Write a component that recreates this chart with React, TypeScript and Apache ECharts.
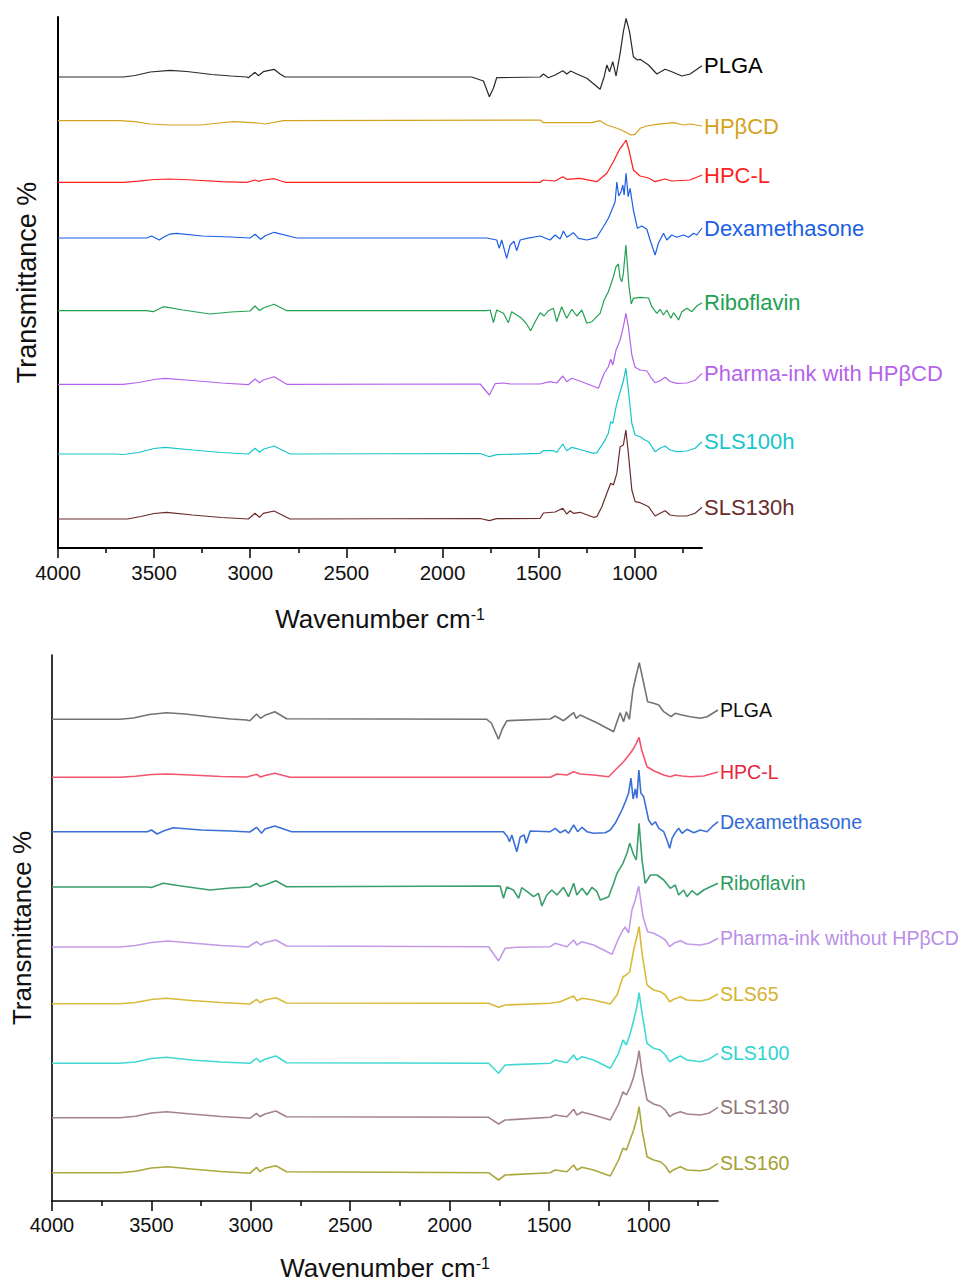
import React, { useEffect, useRef } from "react";
import * as echarts from "echarts";

const FONT = "Liberation Sans, Arial, Helvetica, sans-serif";
const X_MIN = 650;
const X_MAX = 4000;
const MAJOR_TICKS = [4000, 3500, 3000, 2500, 2000, 1500, 1000];
const MINOR_TICKS = [3750, 3250, 2750, 2250, 1750, 1250, 750];
const X_TITLE = "{m|Wavenumber cm}{s|-1}";
const Y_TITLE = "Transmittance %";

// ---------- Top panel ----------
const TOP_NAMES = ["PLGA", "HPβCD", "HPC-L", "Dexamethasone", "Riboflavin", "Pharma-ink with HPβCD", "SLS100h", "SLS130h"];
const TOP_LINE_COLORS = ["#2a2a2a", "#d4a21e", "#ff1f1f", "#1c5fe4", "#22a052", "#b463ea", "#17c5cb", "#6b2b2b"];
const TOP_LABEL_COLORS = ["#000000", "#d4a21e", "#ff1f1f", "#1c5fe4", "#22a052", "#b463ea", "#17c5cb", "#6b2b2b"];

const topPLGA = [[4000,471],[3660,471],[3600,472.5],[3520,476],[3417,477.7],[3330,476.5],[3200,473.5],[3100,472],[3018,471],[3010,470.3],[2975,475.7],[2958,472.3],[2932,476.3],[2876,478.7],[2845,474],[2819,471],[1848,471],[1787,467],[1756,451.3],[1735,459.7],[1718,470.3],[1492,471],[1475,474],[1449,470.3],[1414,473],[1374,477.3],[1353,474],[1333,477],[1301,474],[1249,469.7],[1180,458.7],[1159,471.3],[1145,483],[1131,476.3],[1114,486.3],[1097,472],[1076,494.7],[1059,516.3],[1045,529.7],[1027,516.3],[1007,491.3],[986,488],[972,488.7],[928,483],[885,474],[842,478.7],[807,476.3],[755,472],[712,474],[650,482.3]];
const topHPBCD = [[4000,427.3],[3677,427.3],[3600,426.3],[3520,424],[3417,423],[3261,423],[3160,425],[3088,426.3],[2960,425],[2923,424],[2828,427.3],[1492,428],[1475,425.3],[1223,425.3],[1180,427.3],[1145,423],[1093,419.7],[1059,417],[1020,413],[998,413.7],[972,419.7],[937,422],[885,423.7],[798,425.3],[746,423],[712,424],[650,422]];
const topHPCL = [[4000,365.7],[3660,365.7],[3580,366.8],[3500,368.5],[3417,369],[3300,368],[3150,366.3],[3018,365.7],[2975,368],[2958,366.7],[2932,368],[2876,369.3],[2819,365.7],[1492,365.7],[1475,368],[1414,367],[1374,371.3],[1353,368.7],[1284,369.7],[1197,366.3],[1145,374.7],[1111,386.3],[1076,399.7],[1062,403],[1045,408],[1030,398],[1007,378],[972,372],[928,370],[894,366.3],[842,369],[807,367],[712,368],[650,373]];
const topDexa = [[4000,310],[3539,310],[3513,312],[3473,308],[3450,311],[3420,313.8],[3383,314.7],[3250,312],[3100,311],[3001,310],[2975,313.7],[2946,308.7],[2920,312.5],[2876,315.7],[2758,310],[1770,310],[1718,308],[1705,299.7],[1692,308],[1666,289.7],[1648,303],[1628,306.7],[1614,297.3],[1596,308],[1562,309.7],[1492,312],[1440,308],[1414,313],[1388,309],[1371,317],[1353,310.7],[1319,315.3],[1293,309.7],[1249,308],[1197,310.7],[1163,321.3],[1137,329.7],[1119,338],[1102,346.3],[1093,366],[1083,352],[1071,356.3],[1062,363],[1055,353],[1045,374.7],[1034,351.3],[1024,359.7],[1007,338],[986,319.7],[963,322],[937,318.7],[920,308],[894,293],[877,304.7],[850,314.7],[833,308],[807,313],[781,310.7],[746,313],[720,310.7],[694,314.7],[677,313],[650,320]];
const topRibo = [[4000,237.3],[3540,237.3],[3504,236.3],[3452,241.3],[3350,238],[3209,234],[3100,236],[3001,237],[2975,242],[2952,237.5],[2932,240],[2876,243.7],[2810,237.3],[1770,237.3],[1752,238],[1735,225.3],[1718,238],[1683,234.7],[1657,225.3],[1640,236.3],[1614,233],[1588,229.7],[1565,224.7],[1541,217.3],[1518,226.3],[1492,235.3],[1471,232],[1449,237.3],[1423,239.7],[1406,226.3],[1380,241.3],[1354,229.7],[1327,238.7],[1301,232],[1275,238],[1249,224.7],[1223,226.3],[1180,234.7],[1159,248],[1137,256.3],[1125,263],[1111,271.3],[1097,281.3],[1085,284],[1076,269.7],[1067,266.3],[1059,274.7],[1046,303],[1030,262],[1018,244],[1007,249.7],[972,250.7],[928,250],[911,241.3],[885,234.7],[868,238.7],[851,233],[833,238],[812,229.7],[798,235.3],[772,228],[755,236.3],[729,239.7],[703,236.3],[677,242],[650,245.3]];
const topInkWith = [[4000,163.7],[3660,163.7],[3580,165.5],[3500,168.5],[3443,169.7],[3300,167.5],[3150,165],[3010,163.3],[2975,169],[2952,165.3],[2932,168],[2876,171.3],[2810,163.7],[1804,164],[1756,153],[1726,164.3],[1683,165],[1648,164],[1492,164],[1440,166.3],[1406,165],[1374,172],[1354,166.3],[1327,169.7],[1275,166.3],[1189,159.7],[1159,174.7],[1137,181.3],[1125,188.7],[1114,183],[1097,198],[1076,208],[1059,221.3],[1046,234.7],[1033,221.3],[1015,193],[998,180.7],[972,178],[937,177],[916,170.7],[894,165.3],[868,167.3],[842,170.7],[816,166.5],[781,164.7],[729,165],[686,167.7],[650,174.7]];
const topSLS100h = [[4000,94],[3700,94],[3660,93.5],[3580,95.5],[3500,99.5],[3443,100.7],[3300,98],[3150,95.5],[3010,94],[2975,99.7],[2952,95.7],[2932,98.7],[2876,102],[2793,94],[1804,94.5],[1756,91.3],[1718,93.3],[1492,94.7],[1475,97.3],[1423,97.3],[1406,95.7],[1374,104],[1354,97.3],[1327,100.7],[1275,98],[1215,94.7],[1197,95.3],[1159,106.3],[1137,114.7],[1125,126.3],[1114,124.7],[1097,141.3],[1076,156.3],[1062,164.7],[1046,179.7],[1033,158],[1015,124.7],[998,113],[972,111.3],[946,108],[928,106.3],[894,96.3],[868,99.7],[842,102],[816,98],[781,96.3],[729,97],[686,99.7],[650,106.3]];
const topSLS130h = [[4000,29],[3637,29],[3570,31.5],[3500,34.5],[3435,35.7],[3300,33],[3150,30.5],[3010,29],[2975,34.7],[2952,30.7],[2932,34.7],[2876,37],[2793,29],[1804,29.5],[1756,27.3],[1718,29.3],[1492,29.7],[1475,35],[1414,36],[1374,39.7],[1354,34],[1336,37.3],[1319,34.7],[1284,35.7],[1215,30.7],[1197,31.3],[1171,41.3],[1145,54.7],[1125,64.7],[1111,63],[1093,74.7],[1076,101.3],[1059,103],[1046,118],[1033,94.7],[1015,58],[998,46.3],[972,45.3],[946,43],[928,41.3],[894,32],[868,34.7],[842,37.3],[816,33],[781,32],[729,32],[686,34.7],[650,40.7]];
const TOP_DATA = [topPLGA, topHPBCD, topHPCL, topDexa, topRibo, topInkWith, topSLS100h, topSLS130h];

// ---------- Bottom panel ----------
const BOT_NAMES = ["PLGA", "HPC-L", "Dexamethasone", "Riboflavin", "Pharma-ink without HPβCD", "SLS65", "SLS100", "SLS130", "SLS160"];
const BOT_LINE_COLORS = ["#737373", "#f3546e", "#3b71d6", "#3a9f6c", "#c39ae8", "#d9bb3c", "#43d9d3", "#a28489", "#aaa83c"];
const BOT_LABEL_COLORS = ["#111111", "#e8243c", "#2f6ad8", "#2e9a5e", "#b98ee6", "#d6b22e", "#2ed3d0", "#8e7479", "#a2a030"];

const botPLGA = [[4000,481.7],[3659,481.7],[3590,483],[3510,486.5],[3424,488.3],[3330,487],[3200,484],[3100,482],[3021,481],[3005,480.3],[2971,487],[2951,482.7],[2929,485.7],[2879,489.3],[2820,482.3],[1813,481.7],[1790,478],[1754,461.7],[1735,472],[1712,480.3],[1494,482],[1469,485],[1427,480.3],[1410,483],[1376,488.3],[1363,482.7],[1343,486],[1309,482.7],[1259,478.3],[1175,469.3],[1155,481],[1142,488.3],[1125,479.3],[1111,489.3],[1096,481.7],[1078,511],[1061,526],[1046,538.3],[1029,522.7],[1004,499.3],[974,497.7],[948,496],[923,489.3],[886,484.3],[865,487.7],[831,486],[789,484.3],[739,482.7],[705,484.3],[650,491]];
const botHPCL = [[4000,423.7],[3659,423.7],[3580,424.8],[3500,426.5],[3424,427],[3300,426],[3150,424.5],[3021,424],[2971,426.7],[2951,424],[2929,425.5],[2879,427.7],[2803,423.7],[1494,423.7],[1460,427],[1410,426],[1376,429.3],[1343,427],[1276,426],[1200,424.3],[1158,432.7],[1125,439.3],[1091,447.7],[1074,452.7],[1061,457.7],[1047,463.7],[1034,451],[1007,434.3],[974,430.3],[923,426],[890,424.3],[865,426],[831,425],[789,424.3],[722,425],[650,429]];
const botDexa = [[4000,369.3],[3520,369.3],[3500,371],[3471,367],[3440,370],[3390,373.3],[3250,371],[3100,370],[3005,369],[2971,373.7],[2946,367.7],[2929,372],[2879,375],[2795,369.3],[1729,369.3],[1709,364.3],[1699,359.3],[1687,366],[1662,349.3],[1645,364],[1625,366],[1615,357.7],[1595,370],[1494,369.3],[1469,372.7],[1444,368.3],[1418,371],[1402,367.7],[1376,376],[1356,369.3],[1334,373.7],[1309,369.3],[1276,367.7],[1217,368.3],[1192,371],[1167,377.7],[1150,384.3],[1133,391],[1116,399.3],[1100,407.7],[1088,423],[1077,402],[1066,412],[1058,402.7],[1048,431],[1038,408],[1024,404.3],[999,381],[982,376],[965,379.3],[948,372.7],[923,369.3],[907,361],[893,352.7],[881,362.7],[865,368.3],[848,372.7],[831,367.7],[806,371.7],[772,368.3],[739,371],[705,369.3],[680,374.3],[650,379.3]];
const botRibo = [[4000,314],[3520,314],[3500,313.5],[3441,317.7],[3350,315],[3206,311],[3100,313],[3005,314],[2971,317.7],[2954,314.5],[2929,316],[2874,320.3],[2820,314.3],[1746,315],[1729,302.7],[1712,314],[1679,311],[1653,302.7],[1637,313.3],[1611,309.7],[1578,304.3],[1553,307.7],[1536,295],[1511,306],[1486,311],[1460,306],[1427,313.7],[1402,304.3],[1376,317.7],[1360,306],[1334,312.7],[1309,306],[1284,313.7],[1259,309.3],[1242,301],[1200,304.3],[1175,317.7],[1158,327.7],[1128,337.7],[1108,347.7],[1094,357.7],[1074,346],[1061,341],[1047,377.7],[1032,341],[1016,317.7],[990,326],[957,326],[923,321],[890,312.7],[865,316],[848,306],[823,311],[806,304.3],[781,310.3],[755,306],[722,311],[688,314.3],[650,317.7]];
const botInkWithout = [[4000,254],[3659,254],[3580,255.5],[3500,258.5],[3416,260],[3300,258],[3150,255.5],[3013,254],[2971,259.3],[2951,256],[2929,258.5],[2874,261],[2820,255],[1804,254.3],[1754,240],[1721,252.7],[1662,253.7],[1494,254.3],[1469,257.7],[1410,254.3],[1376,261],[1360,256],[1334,259.3],[1276,256],[1183,246.7],[1150,262.7],[1128,271],[1117,274],[1100,268],[1083,291],[1066,301],[1049,315],[1035,295],[1027,284.3],[1004,269.3],[974,267.7],[940,264.3],[915,261],[893,254.3],[873,257.7],[839,260.3],[806,257],[739,256],[697,257.7],[650,262.7]];
const botSLS65 = [[4000,197.3],[3659,197.3],[3580,198.5],[3500,201.5],[3424,202.7],[3300,200.5],[3150,198.5],[3005,197],[2971,201.7],[2954,198.3],[2929,201],[2874,203.3],[2820,198],[1804,197.7],[1754,193.7],[1721,196],[1494,197.7],[1444,199.3],[1376,205],[1360,200.3],[1334,202.7],[1276,201],[1192,197],[1158,206],[1128,224.3],[1111,226],[1094,229.3],[1074,251],[1058,264.3],[1047,274.3],[1032,247.7],[1007,216],[974,211],[940,209.3],[915,206],[893,199.3],[873,201.7],[839,204.3],[806,201],[739,200.3],[697,201.7],[650,207]];
const botSLS100 = [[4000,137.7],[3659,137.7],[3580,139],[3500,142.5],[3424,143.7],[3300,141],[3150,139],[3005,137.7],[2971,142.7],[2954,139],[2929,141.7],[2874,145],[2820,138.3],[1804,137.7],[1754,127.7],[1721,136],[1494,137.7],[1469,141],[1410,138.3],[1376,146],[1360,141],[1334,144.3],[1276,141],[1192,132.7],[1150,147.7],[1128,161],[1111,156],[1091,167.7],[1074,181],[1058,194.3],[1047,208.3],[1032,187.7],[1007,157.7],[974,152.7],[940,151],[915,146],[893,139.3],[873,141.7],[839,145],[806,141],[739,139.3],[697,141.7],[650,147.7]];
const botSLS130 = [[4000,83.3],[3659,83.3],[3580,84.8],[3500,88],[3424,89.3],[3300,87],[3150,84.5],[3021,83],[3005,82.7],[2971,87.7],[2954,84.3],[2929,87],[2874,90],[2820,84.3],[1804,83.7],[1754,77],[1721,81],[1494,83.7],[1469,86],[1410,84.3],[1376,91.7],[1360,86],[1334,89],[1276,86],[1192,81],[1150,97],[1128,109.3],[1111,106],[1091,114.3],[1074,124.3],[1058,137.7],[1047,150.3],[1032,127.7],[1007,101],[974,97],[940,95],[915,91],[893,84.3],[873,87],[839,89.3],[806,87],[739,86],[697,87.7],[650,93.7]];
const botSLS160 = [[4000,28.3],[3659,28.3],[3580,29.8],[3500,33],[3416,34.3],[3300,32],[3150,29.5],[3005,27.7],[2971,33.7],[2954,29.3],[2929,32.7],[2874,35.3],[2820,29.3],[1804,28.3],[1754,21],[1721,26],[1494,28.3],[1469,31],[1410,29.3],[1376,36],[1360,31],[1334,33.7],[1276,31],[1192,25],[1150,41],[1128,52.7],[1111,51],[1091,61.7],[1074,71],[1058,82.7],[1047,94.3],[1032,71],[1007,44.3],[974,41],[940,39.3],[915,35],[893,28.3],[873,31.3],[839,34.3],[806,31],[739,30.3],[697,31.7],[650,37.7]];
const BOT_DATA = [botPLGA, botHPCL, botDexa, botRibo, botInkWithout, botSLS65, botSLS100, botSLS130, botSLS160];

const TOP_Y_MAX = 531;
const BOT_Y_MAX = 546;

function makeSeries(name: string, lineColor: string, labelColor: string, data: number[][], xIdx: number, yIdx: number, width: number, fontSize: number) {
  const last = data.length - 1;
  const pts = data.map((p, i) =>
    i === last
      ? {
          value: p,
          symbol: "circle",
          symbolSize: 0,
          label: { show: true, position: "right", distance: 2, formatter: name, color: labelColor, fontSize, fontFamily: FONT },
        }
      : p
  );
  return {
    type: "line",
    name,
    xAxisIndex: xIdx,
    yAxisIndex: yIdx,
    data: pts,
    showSymbol: true,
    symbol: "none",
    clip: false,
    silent: true,
    lineStyle: { color: lineColor, width },
    itemStyle: { color: lineColor },
    label: { show: false },
  };
}

function mainXAxis(gridIndex: number, lineW: number, fontSize: number, margin: number, nameGap: number) {
  return {
    type: "value",
    gridIndex,
    min: X_MIN,
    max: X_MAX,
    inverse: true,
    position: "bottom",
    axisLine: { show: true, onZero: false, lineStyle: { color: "#000", width: lineW } },
    axisTick: { show: true, customValues: MAJOR_TICKS, length: 10, lineStyle: { color: "#000", width: 1.5 } },
    axisLabel: {
      show: true,
      customValues: MAJOR_TICKS,
      fontSize,
      color: "#111",
      margin,
      fontFamily: FONT,
      formatter: (v: number) => String(v),
    },
    splitLine: { show: false },
    name: X_TITLE,
    nameLocation: "middle",
    nameGap,
    nameTextStyle: {
      color: "#111",
      fontFamily: FONT,
      rich: {
        m: { fontSize: 26, lineHeight: 26, color: "#111", fontFamily: FONT },
        s: { fontSize: 16, lineHeight: 16, verticalAlign: "top", color: "#111", fontFamily: FONT },
      },
    },
  };
}

function minorXAxis(gridIndex: number) {
  return {
    type: "value",
    gridIndex,
    min: X_MIN,
    max: X_MAX,
    inverse: true,
    position: "bottom",
    axisLine: { show: false, onZero: false },
    axisTick: { show: true, customValues: MINOR_TICKS, length: 5, lineStyle: { color: "#000", width: 1.5 } },
    axisLabel: { show: false },
    splitLine: { show: false },
  };
}

function yAxis(gridIndex: number, max: number, lineW: number, nameGap: number, fontSize: number) {
  return {
    type: "value",
    gridIndex,
    min: 0,
    max,
    axisLine: { show: true, onZero: false, lineStyle: { color: "#000", width: lineW } },
    axisTick: { show: false },
    axisLabel: { show: false },
    splitLine: { show: false },
    name: Y_TITLE,
    nameLocation: "middle",
    nameGap,
    nameTextStyle: { fontSize, color: "#111", fontFamily: FONT },
  };
}

export default function App() {
  const ref = useRef<HTMLDivElement>(null);
  useEffect(() => {
    if (!ref.current) return;
    const chart = echarts.init(ref.current, undefined, { renderer: "svg" });
    const series: any[] = [];
    TOP_DATA.forEach((d, i) => series.push(makeSeries(TOP_NAMES[i], TOP_LINE_COLORS[i], TOP_LABEL_COLORS[i], d, 0, 0, 1.2, 22)));
    BOT_DATA.forEach((d, i) => series.push(makeSeries(BOT_NAMES[i], BOT_LINE_COLORS[i], BOT_LABEL_COLORS[i], d, 2, 1, 1.6, 19.5)));
    chart.setOption({
      animation: false,
      backgroundColor: "#ffffff",
      textStyle: { fontFamily: FONT },
      grid: [
        { left: 58, top: 17, width: 644, height: 531, containLabel: false, outerBoundsMode: "none" },
        { left: 52, top: 655, width: 666, height: 546, containLabel: false, outerBoundsMode: "none" },
      ],
      xAxis: [mainXAxis(0, 2, 20.5, 14, 58), minorXAxis(0), mainXAxis(1, 1.6, 20, 14, 54), minorXAxis(1)],
      yAxis: [yAxis(0, TOP_Y_MAX, 2, 18, 27), yAxis(1, BOT_Y_MAX, 1.6, 17, 26)],
      series,
    } as any);
    return () => chart.dispose();
  }, []);
  return <div ref={ref} style={{ position: "absolute", left: 0, top: 0, width: 958, height: 1282 }} />;
}
